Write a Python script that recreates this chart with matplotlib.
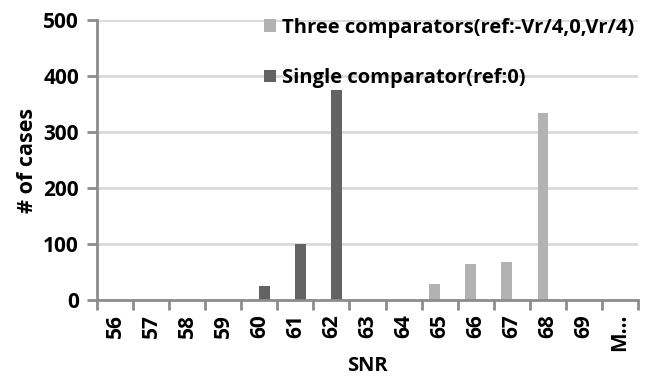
import matplotlib
matplotlib.use("Agg")
import matplotlib.pyplot as plt
import numpy as np

categories = ["56", "57", "58", "59", "60", "61", "62", "63", "64", "65", "66", "67", "68", "69", "M…"]
three_comp = [0, 0, 0, 0, 0, 0, 0, 0, 0, 28, 65, 67, 334, 0, 0]
single_comp = [0, 0, 0, 0, 25, 100, 375, 0, 0, 0, 0, 0, 0, 0, 0]
series_names = ["Three comparators(ref:-Vr/4,0,Vr/4)", "Single comparator(ref:0)"]
yticks = [0, 100, 200, 300, 400, 500]

plt.rcParams['font.family'] = ['Open Sans', 'DejaVu Sans']
plt.rcParams['font.weight'] = 'bold'

fig = plt.figure(figsize=(6.55, 3.77), dpi=100)
ax = fig.add_axes([97/655, 1-300/377, (638-97)/655, (300-20)/377])

x = np.arange(len(categories))
w = 1/3.5
c_three = "#b2b2b2"
c_single = "#636363"
ax.bar(x - w/2, three_comp, width=w, color=c_three, label=series_names[0], zorder=3)
ax.bar(x + w/2, single_comp, width=w, color=c_single, label=series_names[1], zorder=3)

ax.set_xlim(-0.5, len(categories) - 0.5)
ax.set_ylim(0, 500)
ax.set_yticks(yticks)
ax.set_yticklabels([str(v) for v in yticks], fontsize=15, fontweight='bold')
ax.set_xticks(x)
ax.set_xticklabels(categories, rotation=90, fontsize=15, fontweight='bold')
ax.set_xticks(np.arange(len(categories) + 1) - 0.5, minor=True)
ax.tick_params(axis='x', which='major', length=0, pad=10)
ax.tick_params(axis='x', which='minor', length=7, width=2, color="#8c8c8c")
ax.tick_params(axis='y', which='major', length=7, width=2, color="#8c8c8c", pad=6)

ax.grid(axis='y', color="#d9d9d9", linewidth=2, zorder=0)
for s in ['top', 'right']:
    ax.spines[s].set_visible(False)
for s in ['left', 'bottom']:
    ax.spines[s].set_color("#8c8c8c")
    ax.spines[s].set_linewidth(2)
    ax.spines[s].set_zorder(4)

ax.set_ylabel("# of cases", fontsize=15.5, fontweight='bold', labelpad=4)
ax.set_xlabel("SNR", fontsize=14.5, fontweight='bold', labelpad=3)

leg = ax.legend(loc='upper left', bbox_to_anchor=((256-97)/(638-97), 1.036),
                frameon=False, prop={'weight': 'bold', 'size': 14.5},
                handlelength=0.6, handleheight=0.6, handletextpad=0.3,
                labelspacing=1.5, borderaxespad=0)

fig.savefig("out.png", dpi=100)
